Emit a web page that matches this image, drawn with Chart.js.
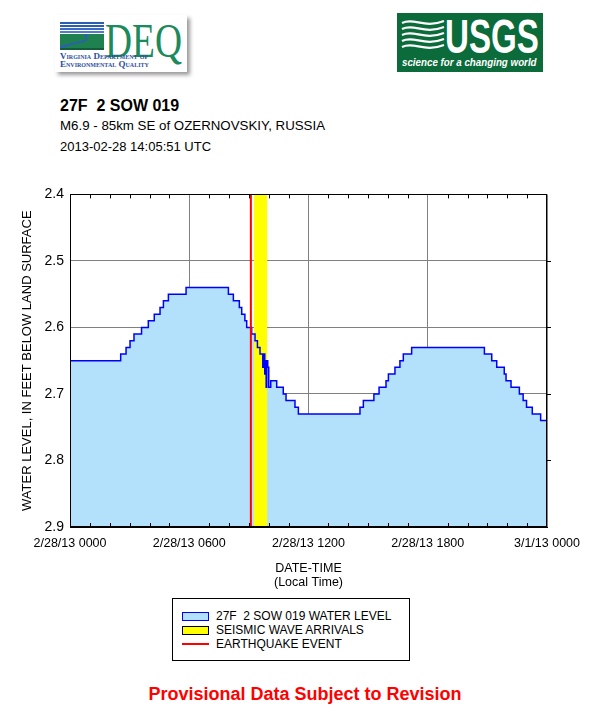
<!DOCTYPE html>
<html>
<head>
<meta charset="utf-8">
<script src="https://cdn.jsdelivr.net/npm/chart.js@4/dist/chart.umd.min.js"></script>
<style>
  body { margin: 0; background: #fff; font-family: "Liberation Sans", Arial, sans-serif; }
  #page { position: relative; width: 610px; height: 719px; overflow: hidden; }
  .abs { position: absolute; white-space: pre; }
  #chart-box { position: absolute; left: 0; top: 180px; width: 610px; height: 410px; }
  #legend { position: absolute; left: 172px; top: 598px; width: 238px; height: 63px;
            border: 1px solid #000; box-sizing: border-box; }
  .leg-row { position: absolute; left: 0; height: 14px; font-size: 12px; line-height: 14px; }
  .leg-swatch { position: absolute; left: 9px; top: 3px; width: 27px; height: 9px; box-sizing: border-box; border: 1px solid #000; }
  .leg-text { position: absolute; left: 43px; top: 0; white-space: pre; color: #000; }
</style>
</head>
<body>
<div id="page">

  <!-- DEQ logo -->
  <div class="abs" style="left:55px;top:15px;width:132px;height:57px;background:#fff;box-shadow:3px 3px 4px #9a9a9a;">
    <svg width="44" height="28" style="position:absolute;left:5px;top:7px">
      <rect x="0" y="0" width="44" height="28" fill="#fff"/>
      <rect x="0" y="0" width="44" height="2" fill="#2d5fb0"/>
      <rect x="0" y="3" width="44" height="2" fill="#2d5fb0"/>
      <rect x="0" y="6" width="44" height="2" fill="#3a6cc0"/>
      <rect x="0" y="9" width="44" height="2" fill="#4d7dcc"/>
      <rect x="0" y="12" width="44" height="16" fill="#1f8050"/>
      <path d="M30 12 C 22 15, 34 18, 20 21 C 10 23, 6 25, 0 27 L 0 24 C 8 22, 16 20, 24 18 C 30 16, 20 14, 26 12 Z" fill="#2d5fb0"/>
      <rect x="0" y="26" width="44" height="2" fill="#155c3a"/>
    </svg>
    <div style="position:absolute;left:50px;top:-2px;font:48px 'Liberation Serif',serif;color:#1b8a5c;transform:scaleX(0.78);transform-origin:0 0;">DEQ</div>
    <div style="position:absolute;left:5px;top:37px;font:bold 9px 'Liberation Serif',serif;font-variant:small-caps;color:#2b4ea0;line-height:8px;white-space:pre;">Virginia Department of
Environmental Quality</div>
  </div>

  <!-- USGS logo -->
  <div class="abs" style="left:397px;top:13px;width:146px;height:59px;background:#0b6b3b;">
    <svg width="46" height="38" style="position:absolute;left:3px;top:4px">
      <g fill="none" stroke="#fff" stroke-width="2.2">
        <path d="M2 6 C 14 0, 24 12, 44 4"/>
        <path d="M2 12 C 14 6, 24 18, 44 10"/>
        <path d="M2 18 C 14 12, 24 24, 44 16"/>
        <path d="M2 24 C 14 18, 24 30, 44 22"/>
        <path d="M2 30 C 14 24, 24 36, 44 28"/>
      </g>
    </svg>
    <div style="position:absolute;left:48px;top:-4px;font:bold 48px 'Liberation Sans',Arial,sans-serif;color:#fff;transform:scaleX(0.69);transform-origin:0 0;">USGS</div>
    <div style="position:absolute;left:5px;top:43px;font:italic bold 10.5px 'Liberation Sans',Arial,sans-serif;color:#fff;white-space:pre;transform:scaleX(0.93);transform-origin:0 0;">science for a changing world</div>
  </div>

  <!-- header text -->
  <div class="abs" style="left:60px;top:97px;font:bold 16px 'Liberation Sans',Arial,sans-serif;color:#000;">27F  2 SOW 019</div>
  <div class="abs" style="left:60px;top:118px;font:13.3px 'Liberation Sans',Arial,sans-serif;color:#000;">M6.9 - 85km SE of OZERNOVSKIY, RUSSIA</div>
  <div class="abs" style="left:60px;top:139px;font:13px 'Liberation Sans',Arial,sans-serif;color:#000;">2013-02-28 14:05:51 UTC</div>

  <div id="chart-box"><canvas id="chart" width="610" height="410"></canvas></div>

  <div id="legend">
    <div class="leg-row" style="top:10px;width:100%;">
      <div class="leg-swatch" style="background:#b3e1fb;border-color:#0000ff;"></div>
      <div class="leg-text" id="leg-water"></div>
    </div>
    <div class="leg-row" style="top:24px;width:100%;">
      <div class="leg-swatch" style="background:#ffff00;"></div>
      <div class="leg-text" id="leg-seismic"></div>
    </div>
    <div class="leg-row" style="top:38px;width:100%;">
      <div style="position:absolute;left:9px;top:6px;width:27px;height:2px;background:#ff0000;"></div>
      <div class="leg-text" id="leg-event"></div>
    </div>
  </div>

  <div class="abs" style="left:0;width:610px;text-align:center;top:684px;font:bold 18px 'Liberation Sans',Arial,sans-serif;color:#ff0000;">Provisional Data Subject to Revision</div>
</div>

<script>
// Water level record, hours after 2/28/13 0000 local time, feet below land surface.
// Each point is where a new level starts (drawn as a step line).
const hours = [
  0, 2.55, 2.82, 3.02, 3.22, 3.60, 3.94, 4.24, 4.53, 4.70, 4.95, 5.84,
  7.97, 8.22, 8.52, 8.64, 8.80, 8.89, 9.14, 9.31, 9.43, 9.56,
  9.70, 9.74, 9.80, 9.84, 9.87, 9.90, 9.95, 10.00, 10.10, 10.40,
  10.73, 10.87, 11.32, 11.49, 14.59, 14.76, 15.29, 15.55, 15.90, 16.02,
  16.35, 16.60, 16.77, 17.19, 20.85, 21.22, 21.47, 21.85, 21.94, 22.19,
  22.61, 22.80, 22.97, 23.26, 23.68, 24.00
];
const levels = [
  2.65, 2.64, 2.63, 2.62, 2.61, 2.60, 2.59, 2.58, 2.57, 2.56, 2.55, 2.54,
  2.55, 2.56, 2.57, 2.58, 2.59, 2.60, 2.61, 2.62, 2.63, 2.64,
  2.66, 2.64, 2.67, 2.65, 2.69, 2.65, 2.66, 2.69, 2.68, 2.69,
  2.70, 2.71, 2.72, 2.73, 2.72, 2.71, 2.70, 2.69, 2.68, 2.67,
  2.66, 2.65, 2.64, 2.63, 2.64, 2.65, 2.66, 2.67, 2.68, 2.69,
  2.70, 2.71, 2.72, 2.73, 2.74, 2.74
];

// Earthquake and seismic wave arrival window (hours, local time)
const eventHour = 9.1;
const seismicStart = 9.25;
const seismicEnd = 9.93;

const xTickLabels = ['2/28/13 0000', '2/28/13 0600', '2/28/13 1200', '2/28/13 1800', '3/1/13 0000'];
const yMin = 2.4, yMax = 2.9;

const seriesName = '27F  2 SOW 019 WATER LEVEL';
const seismicName = 'SEISMIC WAVE ARRIVALS';
const eventName = 'EARTHQUAKE EVENT';

document.getElementById('leg-water').textContent = seriesName;
document.getElementById('leg-seismic').textContent = seismicName;
document.getElementById('leg-event').textContent = eventName;

const waterPoints = hours.map((h, i) => ({ x: h, y: levels[i] }));

// plot frame, top/right border and the small hourly ticks inside the plot
const framePlugin = {
  id: 'frame',
  afterDatasetsDraw(chart) {
    const { ctx, chartArea: a, scales: { x, y } } = chart;
    ctx.save();
    ctx.strokeStyle = '#000';
    ctx.lineWidth = 1;
    ctx.beginPath();
    for (let h = 1; h < 24; h++) {
      if (h % 6 === 0) continue;
      const px = Math.round(x.getPixelForValue(h)) + 0.5;
      ctx.moveTo(px, a.top); ctx.lineTo(px, a.top + 4);
      ctx.moveTo(px, a.bottom); ctx.lineTo(px, a.bottom - 4);
    }
    for (let v = 2.5; v < 2.9; v += 0.1) {
      const py = Math.round(y.getPixelForValue(v)) + 0.5;
      ctx.moveTo(a.right, py); ctx.lineTo(a.right + 4, py);
    }
    ctx.stroke();
    ctx.strokeRect(Math.round(a.left) + 0.5, Math.round(a.top) + 0.5,
                   Math.round(a.width) - 1, Math.round(a.height) - 1);
    ctx.restore();
  }
};

new Chart(document.getElementById('chart'), {
  type: 'line',
  data: {
    datasets: [
      {
        label: eventName,
        data: [{ x: eventHour, y: yMin }, { x: eventHour, y: yMax }],
        borderColor: '#ff0000',
        borderWidth: 2,
        pointRadius: 0,
        fill: false,
        order: 0
      },
      {
        label: seriesName,
        data: waterPoints,
        stepped: true,
        borderColor: '#0000ff',
        borderWidth: 1.5,
        pointRadius: 0,
        fill: false,
        order: 1
      },
      {
        label: seismicName,
        data: [{ x: seismicStart, y: yMax }, { x: seismicEnd, y: yMax }],
        borderColor: 'rgba(0,0,0,0)',
        borderWidth: 0,
        backgroundColor: '#ffff00',
        pointRadius: 0,
        fill: { value: yMin },
        order: 2
      },
      {
        label: seriesName + ' fill',
        data: waterPoints,
        stepped: true,
        borderColor: 'rgba(0,0,0,0)',
        borderWidth: 0,
        backgroundColor: '#b3e1fb',
        pointRadius: 0,
        fill: { value: yMax },
        order: 3
      }
    ]
  },
  options: {
    responsive: false,
    animation: false,
    events: [],
    layout: { padding: { left: 0, right: 63, top: 11, bottom: 0 } },
    plugins: { legend: { display: false }, tooltip: { enabled: false } },
    scales: {
      x: {
        type: 'linear',
        min: 0, max: 24,
        afterFit: (s) => { s.height = 63; },
        grid: { color: '#808080', lineWidth: 1, drawTicks: false },
        border: { color: '#000', width: 1 },
        ticks: {
          stepSize: 6, autoSkip: false, maxRotation: 0, padding: 9,
          color: '#000', font: { family: 'Liberation Sans', size: 12.5 },
          callback: (v) => xTickLabels[v / 6]
        },
        title: {
          display: true, text: ['DATE-TIME', '(Local Time)'], color: '#000',
          font: { family: 'Liberation Sans', size: 12.5, lineHeight: 1.12 },
          padding: { top: 0, bottom: 0 }
        }
      },
      y: {
        type: 'linear',
        reverse: true,
        min: yMin, max: yMax,
        afterFit: (s) => { s.width = 70; },
        grid: { color: '#808080', lineWidth: 1, drawTicks: false },
        border: { color: '#000', width: 1 },
        ticks: {
          stepSize: 0.1, padding: 6, color: '#000',
          font: { family: 'Liberation Sans', size: 14 },
          callback: (v) => v.toFixed(1)
        },
        title: {
          display: true, text: 'WATER LEVEL, IN FEET BELOW LAND SURFACE', color: '#000',
          font: { family: 'Liberation Sans', size: 13 },
          padding: { top: 20, bottom: 0 }
        }
      }
    }
  },
  plugins: [framePlugin]
});
</script>
</body>
</html>
